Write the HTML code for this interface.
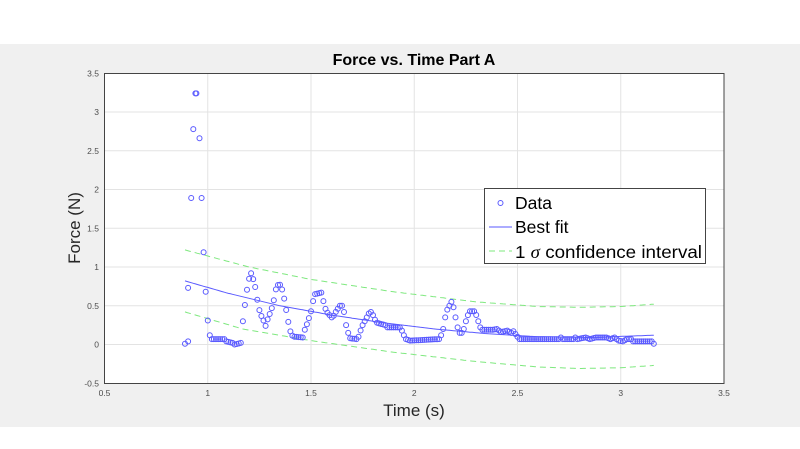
<!DOCTYPE html>
<html><head><meta charset="utf-8"><style>
body{margin:0;width:800px;height:449px;background:#fff;overflow:hidden}
svg{display:block}
text{font-family:"Liberation Sans",sans-serif}
</style></head><body>
<svg id="s" width="800" height="449" xmlns="http://www.w3.org/2000/svg">
<rect x="0" y="0" width="800" height="449" fill="#fff"/>
<rect x="0" y="44" width="800" height="383" fill="#f0f0f0"/>
<rect x="104.5" y="73.5" width="619.5" height="310" fill="#fff"/>
<g id="grid" stroke="#e3e3e3" stroke-width="1"></g>
<g id="ticks" font-size="8.5" fill="#4d4d4d"></g>
<g id="series"></g>
<rect x="104.5" y="73.5" width="619.5" height="310" fill="none" stroke="#444" stroke-width="1"/>
<text x="414" y="65" font-size="16" font-weight="bold" text-anchor="middle" fill="#000">Force vs. Time Part A</text>
<text x="414" y="416" font-size="17" text-anchor="middle" fill="#262626">Time (s)</text>
<text transform="translate(80,228) rotate(-90)" font-size="17" text-anchor="middle" fill="#262626">Force (N)</text>
<g>
<rect x="484.5" y="188.5" width="221" height="75" fill="#fff" stroke="#444" stroke-width="1"/>
<circle cx="500.5" cy="203" r="2.5" fill="none" stroke="#5a5aff" stroke-width="1"/>
<text x="515" y="209" font-size="17.5" fill="#000">Data</text>
<line x1="489" y1="227" x2="512" y2="227" stroke="#5a5aff" stroke-width="1"/>
<text x="515" y="233" font-size="17.5" fill="#000">Best fit</text>
<line x1="489" y1="251" x2="512" y2="251" stroke="#7ee87e" stroke-width="1" stroke-dasharray="6,4"/>
<text x="515" y="258" font-size="17.5" fill="#000" textLength="187" lengthAdjust="spacingAndGlyphs">1 <tspan font-family="Liberation Serif,serif" font-style="italic">σ</tspan> confidence interval</text>
</g>
</svg>
<script>
var NS="http://www.w3.org/2000/svg";
function X(t){return 104.5+(t-0.5)*206.5}
function Y(f){return 344.5-f*77.5}
function el(tag,a,p){var e=document.createElementNS(NS,tag);for(var k in a)e.setAttribute(k,a[k]);p.appendChild(e);return e}
var g=document.getElementById('grid'),tk=document.getElementById('ticks'),se=document.getElementById('series');
for(var i=1;i<6;i++){var x=X(0.5+i*0.5);el('line',{x1:x,y1:73.5,x2:x,y2:383.5},g);}
for(var i=1;i<8;i++){var y=Y(-0.5+i*0.5);el('line',{x1:104.5,y1:y,x2:724,y2:y},g);}
var xl=['0.5','1','1.5','2','2.5','3','3.5'];
for(var i=0;i<7;i++){var t=el('text',{x:X(0.5+i*0.5),y:396,'text-anchor':'middle'},tk);t.textContent=xl[i];}
var yl=['-0.5','0','0.5','1','1.5','2','2.5','3','3.5'];
for(var i=0;i<9;i++){var t=el('text',{x:99,y:Y(-0.5+i*0.5)+3,'text-anchor':'end'},tk);t.textContent=yl[i];}
function interp(k,t){for(var i=0;i<k.length-1;i++){if(t<=k[i+1][0]){var a=k[i],b=k[i+1];return a[1]+(b[1]-a[1])*(t-a[0])/(b[0]-a[0]);}}return k[k.length-1][1];}
function poly(k,attrs){var p=[];for(var t=0.89;t<=3.161;t+=0.01)p.push(X(t).toFixed(1)+','+Y(interp(k,t)).toFixed(1));attrs.points=p.join(' ');attrs.fill='none';el('polyline',attrs,se);}
poly([[0.89,1.22],[1.2,1.0],[1.5,0.84],[1.9,0.68],[2.3,0.55],[2.6,0.49],[2.8,0.48],[3.0,0.49],[3.16,0.52]],{stroke:'#7ee87e','stroke-width':1,'stroke-dasharray':'6,4'});
poly([[0.89,0.42],[1.17,0.2],[1.5,0.05],[1.9,-0.1],[2.3,-0.22],[2.6,-0.29],[2.8,-0.31],[3.0,-0.3],[3.16,-0.27]],{stroke:'#7ee87e','stroke-width':1,'stroke-dasharray':'6,4'});
poly([[0.89,0.82],[1.1,0.66],[1.35,0.5],[1.6,0.38],[1.85,0.28],[2.1,0.2],[2.35,0.14],[2.6,0.1],[2.85,0.09],[3.16,0.12]],{stroke:'#5a5aff','stroke-width':1});
var pts=[[0.89,0.01],[0.905,0.04],[0.905,0.73],[0.92,1.89],[0.93,2.78],[0.94,3.24],[0.945,3.24],[0.96,2.66],[0.97,1.89],[0.98,1.19],[0.99,0.68],[1.0,0.31],[1.01,0.12]];
var K=[[1.02,0.07],[1.08,0.07],[1.09,0.04],[1.12,0.02],[1.13,0.0],[1.16,0.02],[1.165,0.19],[1.175,0.41],[1.187,0.65],[1.196,0.82],[1.21,0.92],[1.215,0.89],[1.229,0.76],[1.237,0.62],[1.248,0.46],[1.258,0.38],[1.27,0.31],[1.28,0.24],[1.288,0.31],[1.298,0.38],[1.308,0.45],[1.32,0.57],[1.327,0.69],[1.337,0.76],[1.345,0.78],[1.355,0.76],[1.366,0.65],[1.377,0.49],[1.387,0.34],[1.395,0.21],[1.406,0.12],[1.42,0.1],[1.46,0.09],[1.47,0.19],[1.48,0.26],[1.49,0.34],[1.5,0.43],[1.51,0.56],[1.52,0.65],[1.55,0.67],[1.56,0.56],[1.57,0.46],[1.58,0.41],[1.6,0.35],[1.61,0.37],[1.62,0.42],[1.64,0.5],[1.65,0.5],[1.66,0.42],[1.67,0.25],[1.68,0.15],[1.69,0.08],[1.72,0.07],[1.73,0.1],[1.74,0.18],[1.75,0.25],[1.76,0.3],[1.77,0.35],[1.78,0.4],[1.79,0.42],[1.8,0.38],[1.81,0.32],[1.82,0.28],[1.86,0.25],[1.87,0.22],[1.93,0.22],[1.94,0.18],[1.95,0.12],[1.96,0.07],[1.98,0.05],[2.12,0.07],[2.13,0.12],[2.14,0.2],[2.15,0.35],[2.16,0.45],[2.17,0.5],[2.18,0.55],[2.19,0.48],[2.2,0.35],[2.21,0.22],[2.22,0.15],[2.23,0.15],[2.24,0.2],[2.25,0.3],[2.26,0.38],[2.27,0.43],[2.29,0.43],[2.3,0.38],[2.31,0.3],[2.32,0.22],[2.33,0.19],[2.38,0.19],[2.4,0.2],[2.42,0.16],[2.45,0.18],[2.47,0.15],[2.48,0.17],[2.5,0.1],[2.51,0.07],[2.7,0.07],[2.71,0.09],[2.72,0.07],[2.77,0.07],[2.78,0.09],[2.79,0.07],[2.83,0.09],[2.85,0.07],[2.88,0.09],[2.93,0.09],[2.95,0.07],[2.97,0.09],[2.99,0.05],[3.01,0.04],[3.03,0.07],[3.05,0.07],[3.06,0.04],[3.15,0.04],[3.16,0.01]];
for(var t=1.02;t<=3.161;t+=0.01)pts.push([t,interp(K,t)]);
for(var i=0;i<pts.length;i++)el('circle',{cx:X(pts[i][0]).toFixed(1),cy:Y(pts[i][1]).toFixed(1),r:2.5,fill:'none',stroke:'#5a5aff','stroke-width':1},se);
</script>
</body></html>
